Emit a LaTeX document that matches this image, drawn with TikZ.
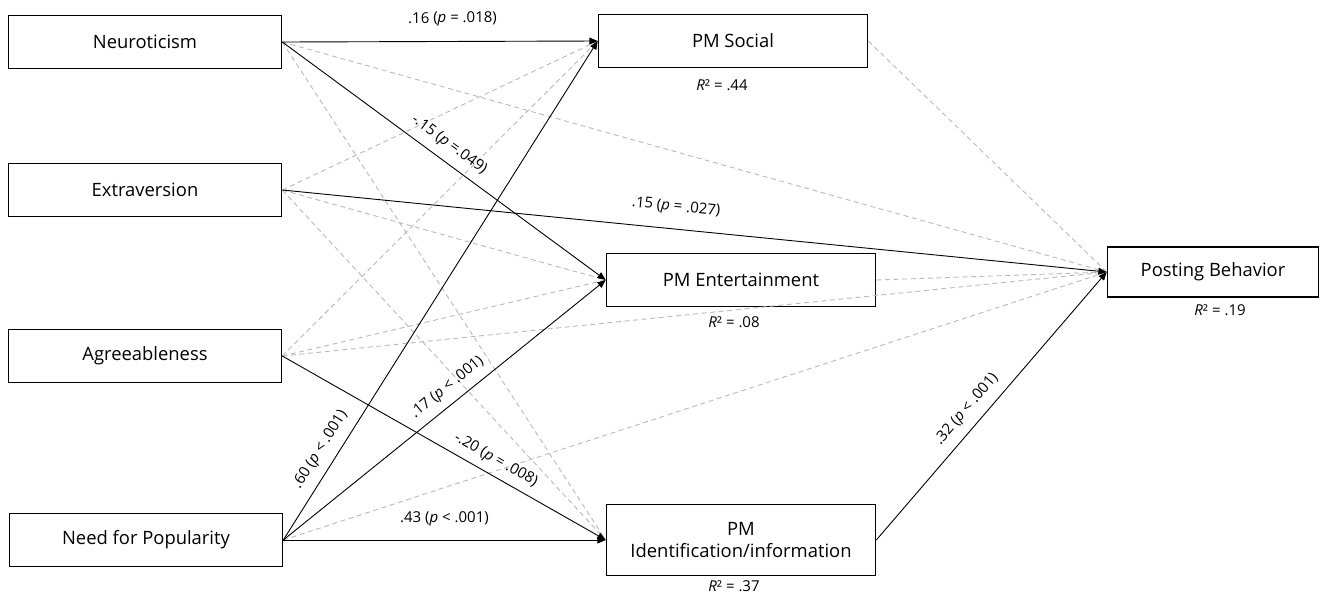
\documentclass[tikz,border=0pt]{standalone}
\usepackage{fontspec}
\setmainfont{Open Sans}
\usetikzlibrary{arrows.meta}

\begin{document}
\begin{tikzpicture}[x=0.5pt,y=-0.5pt,
        box/.style={rectangle,draw,line width=0.8pt,minimum width=136.5pt,minimum height=26.5pt,inner sep=2pt,font=\fontsize{9.2}{11}\selectfont},
        medbox/.style={box,minimum width=134.5pt},
        sig/.style={arrows = -{Triangle[angle=45:4.5pt]},black,line width=0.45pt},
        nsig/.style={gray!55,line width=0.45pt,dash pattern=on 2.5pt off 1.8pt},
        lbl/.style={sloped,inner sep=1pt,font=\fontsize{7.5}{9}\selectfont},
        rsq/.style={inner sep=1pt,font=\fontsize{7.5}{9}\selectfont}]

            %\draw [help lines] (0,0) grid (1326,596);
            \useasboundingbox (0,0) rectangle (1326,596);

            \path   (145,42) node (neur) [box] {Neuroticism}
                    (145,190) node (extr) [box] {Extraversion}
                    (145,356) node (agree) [box] {Agreeableness}
                    (146,540) node (pop) [box] {Need for Popularity}
                    (733,41) node (soc) [medbox] {PM Social}
                    (741,280) node (ent) [medbox] {PM Entertainment}
                    (741,540) node (ident) [medbox,minimum height=35.5pt,align=center] {PM\\Identification/information}
                    (1213,272) node (post) [box,minimum width=105.5pt,minimum height=25pt] {Posting Behavior};

            \path   (722,85) node (rsoc) [rsq] {\textit{R}² = .44}
                    (734,322) node (rent) [rsq] {\textit{R}² = .08}
                    (734,586) node (rident) [rsq] {\textit{R}² = .37}
                    (1220,310) node (rpost) [rsq] {\textit{R}² = .19};

            % non-significant paths
            \draw[nsig] (node cs: name = neur, anchor = east) -- (node cs: name = ident, anchor = west);
            \draw[nsig] (node cs: name = neur, anchor = east) -- (node cs: name = post, anchor = west);
            \draw[nsig] (node cs: name = extr, anchor = east) -- (node cs: name = soc, anchor = west);
            \draw[nsig] (node cs: name = extr, anchor = east) -- (node cs: name = ent, anchor = west);
            \draw[nsig] (node cs: name = extr, anchor = east) -- (node cs: name = ident, anchor = west);
            \draw[nsig] (node cs: name = agree, anchor = east) -- (node cs: name = soc, anchor = west);
            \draw[nsig] (node cs: name = agree, anchor = east) -- (node cs: name = ent, anchor = west);
            \draw[nsig] (node cs: name = agree, anchor = east) -- (node cs: name = post, anchor = west);
            \draw[nsig] (node cs: name = pop, anchor = east) -- (node cs: name = post, anchor = west);
            \draw[nsig] (node cs: name = soc, anchor = east) -- (node cs: name = post, anchor = west);
            \draw[nsig] (node cs: name = ent, anchor = east) -- (node cs: name = post, anchor = west);

            % significant paths
            \draw[sig] (node cs: name = neur, anchor = east) -- (node cs: name = soc, anchor = west)
                node [lbl, pos=0.54, above=6.25pt] {.16 (\textit{p} = .018)};
            \draw[sig] (node cs: name = neur, anchor = east) -- (node cs: name = ent, anchor = west)
                node [lbl, pos=0.486, above=3.25pt] {-.15 (\textit{p} =.049)};
            \draw[sig] (node cs: name = extr, anchor = east) -- (node cs: name = post, anchor = west)
                node [lbl, pos=0.475, above=6pt] {.15 (\textit{p} = .027)};
            \draw[sig] (node cs: name = agree, anchor = east) -- (node cs: name = ident, anchor = west)
                node [lbl, pos=0.637, above=2.7pt] {-.20 (\textit{p} = .008)};
            \draw[sig] (node cs: name = pop, anchor = east) -- (node cs: name = soc, anchor = west)
                node [lbl, pos=0.163, above=3.5pt] {.60 (\textit{p} < .001)};
            \draw[sig] (node cs: name = pop, anchor = east) -- (node cs: name = ent, anchor = west)
                node [lbl, pos=0.54, above=3pt] {.17 (\textit{p} < .001)};
            \draw[sig] (node cs: name = pop, anchor = east) -- (node cs: name = ident, anchor = west)
                node [lbl, pos=0.5, above=5.75pt] {.43 (\textit{p} < .001)};
            \draw[sig] (node cs: name = ident, anchor = east) -- (node cs: name = post, anchor = west)
                node [lbl, pos=0.448, above=3.5pt] {.32 (\textit{p} < .001)};

\end{tikzpicture}
\end{document}
